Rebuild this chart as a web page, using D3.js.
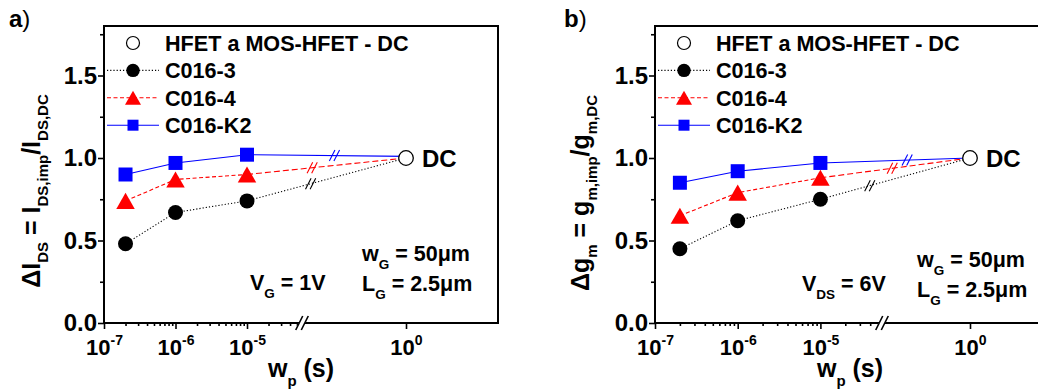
<!DOCTYPE html>
<html>
<head>
<meta charset="utf-8">
<script src="https://cdn.jsdelivr.net/npm/d3@7"></script>
<style>
body { margin: 0; background: #fff; }
svg { display: block; font-family: Arial, "Liberation Sans", sans-serif; font-weight: bold; }
text { white-space: pre; }
</style>
</head>
<body>
<svg id="chart" width="1038" height="389"></svg>
<script>
// pulse widths w_p (s) of the measured points, DC point drawn at 10^0
const pulseWidths = [2e-7, 1e-6, 1e-5];
const dcWidth = 1;
const seriesNames = ["C016-3", "C016-4", "C016-K2"];
const dcLegendLabel = "HFET a MOS-HFET - DC";
const xMajorTicks = [1e-7, 1e-6, 1e-5];
const xDcTicks = [1];
const yMajorTicks = [0, 0.5, 1.0, 1.5];
const yMinorTicks = [0.25, 0.75, 1.25, 1.75];

// a) delta I_DS
const idsC0163 = [0.48, 0.67, 0.74];
const idsC0164 = [0.74, 0.87, 0.90];
const idsC016K2 = [0.90, 0.97, 1.02];
const idsDcEnd = [1.0, 1.0, 1.01];
const idsDc = 1.0;

// b) delta g_m
const gmC0163 = [0.45, 0.62, 0.75];
const gmC0164 = [0.65, 0.79, 0.88];
const gmC016K2 = [0.85, 0.92, 0.97];
const gmDcEnd = [1.0, 1.0, 1.0];
const gmDc = 1.0;

const svg = d3.select("#chart");
const colors = ["#000000", "#ff0000", "#0000ff"];
const dashes = ["1.2,2", "4,2.5", null];
const lastDashes = ["1.2,2", "6,3", null];

// triangle centred on its bounding box (like Origin does)
const triUp = {
    draw(ctx, size) {
        const s = Math.sqrt(size), h = s * 0.87;
        ctx.moveTo(0, -h / 2);
        ctx.lineTo(s / 2, h / 2);
        ctx.lineTo(-s / 2, h / 2);
        ctx.closePath();
    }
};
const symbolTypes = [d3.symbolCircle, triUp, d3.symbolSquare];
const markerSizes = [Math.PI * 7.5 * 7.5, 18.5 * 18.5, 14 * 14];
const legendSizes = [Math.PI * 6.7 * 6.7, 16 * 16, 11 * 11];

// text with sub/superscripts, parts = [[string, "n"|"sub"|"sup"], ...]
function rich(txt, parts, big, small, subShift, supShift) {
    let cur = 0;
    parts.forEach(function (p) {
        const target = p[1] === "sub" ? subShift : (p[1] === "sup" ? -supShift : 0);
        txt.append("tspan")
            .attr("dy", target - cur)
            .attr("font-size", p[1] === "n" ? big : small)
            .text(p[0]);
        cur = target;
    });
    return txt;
}

function drawPanel(cfg) {
    const g = svg.append("g");
    const top = 26, bottom = 323;

    const y = d3.scaleLinear().domain([0, 1.8]).range([bottom, top]);
    // broken x axis: log part for the pulses, second log part around DC
    const x1 = d3.scaleLog()
        .domain([1e-7, Math.pow(10, -7 + (cfg.brk - cfg.left) / cfg.dec)])
        .range([cfg.left, cfg.brk]);
    const x2 = d3.scaleLog()
        .domain([Math.pow(10, -(cfg.p0 - cfg.brk) / cfg.dec), Math.pow(10, (cfg.right - cfg.p0) / cfg.dec)])
        .range([cfg.brk, cfg.right]);
    const x = v => (v < 1e-3 ? x1(v) : x2(v));

    // minor x ticks up to the break
    const xMinor = [];
    const brkVal = x1.domain()[1];
    for (let e = -7; e <= -5; e++) {
        for (let k = 2; k <= 9; k++) {
            const v = k * Math.pow(10, e);
            if (v < brkVal * 0.97) xMinor.push(v);
        }
    }

    // frame
    g.append("rect")
        .attr("x", cfg.left).attr("y", top)
        .attr("width", cfg.right - cfg.left).attr("height", bottom - top)
        .attr("fill", "none").attr("stroke", "#000").attr("stroke-width", 2);

    // y axis
    const yAx = g.append("g").attr("transform", `translate(${cfg.left},0)`)
        .call(d3.axisLeft(y).tickValues(yMajorTicks).tickFormat(d3.format(".1f"))
            .tickSize(6).tickSizeOuter(0).tickPadding(1));
    yAx.attr("font-size", 24).attr("font-family", null);
    yAx.selectAll("line").attr("stroke-width", 1.6);
    g.append("g").attr("transform", `translate(${cfg.left},0)`)
        .call(d3.axisLeft(y).tickValues(yMinorTicks).tickFormat("").tickSize(4).tickSizeOuter(0))
        .selectAll("line").attr("stroke-width", 1.6);

    // x axis
    const supLabel = function (d) {
        const t = d3.select(this).text(null).attr("y", 32).attr("dy", 0);
        rich(t, [["10", "n"], [String(Math.round(Math.log10(d))), "sup"]], 22, 14, 0, 10);
    };
    const xAx1 = g.append("g").attr("transform", `translate(0,${bottom})`)
        .call(d3.axisBottom(x1).tickValues(xMajorTicks).tickSize(6).tickSizeOuter(0));
    xAx1.attr("font-family", null);
    xAx1.selectAll("text").each(supLabel);
    g.append("g").attr("transform", `translate(0,${bottom})`)
        .call(d3.axisBottom(x1).tickValues(xMinor).tickFormat("").tickSize(3).tickSizeOuter(0));
    const xAx2 = g.append("g").attr("transform", `translate(0,${bottom})`)
        .call(d3.axisBottom(x2).tickValues(xDcTicks).tickSize(6).tickSizeOuter(0));
    xAx2.attr("font-family", null);
    xAx2.selectAll("text").each(supLabel);
    g.selectAll(".domain").remove();
    g.selectAll(".tick line").attr("stroke-width", 1.6);

    // axis break mark
    g.append("path")
        .attr("d", `M${cfg.brk - 5},${bottom + 3}L${cfg.brk - 1},${bottom - 3}L${cfg.brk + 5},${bottom - 3}L${cfg.brk + 1},${bottom + 3}Z`)
        .attr("fill", "#fff");
    [-2.8, 2.8].forEach(function (o) {
        g.append("line")
            .attr("x1", cfg.brk + o - 3.5).attr("y1", bottom + 7)
            .attr("x2", cfg.brk + o + 3.5).attr("y2", bottom - 7)
            .attr("stroke", "#000").attr("stroke-width", 1.6);
    });

    // data lines
    const line = d3.line().x(d => x(d[0])).y(d => y(d[1]));
    cfg.series.forEach(function (vals, i) {
        const pts = pulseWidths.map((w, j) => [w, vals[j]]);
        g.append("path").datum(pts).attr("d", line)
            .attr("fill", "none").attr("stroke", colors[i]).attr("stroke-width", 1.1)
            .attr("stroke-dasharray", dashes[i]);
        const last = [pts[pts.length - 1], [dcWidth, cfg.dcEnd[i]]];
        g.append("path").datum(last).attr("d", line)
            .attr("fill", "none").attr("stroke", colors[i]).attr("stroke-width", 1.1)
            .attr("stroke-dasharray", lastDashes[i]);
        // break mark on the line
        const ax = x(last[0][0]), ay = y(last[0][1]), bx = x(last[1][0]), by = y(last[1][1]);
        const t = cfg.lineBreaks[i];
        const px = ax + (bx - ax) * t, py = ay + (by - ay) * t;
        [-2.3, 2.3].forEach(function (o) {
            g.append("line")
                .attr("x1", px + o - 2.8).attr("y1", py + 5.5)
                .attr("x2", px + o + 2.8).attr("y2", py - 5.5)
                .attr("stroke", colors[i]).attr("stroke-width", 1.1);
        });
    });

    // markers
    cfg.series.forEach(function (vals, i) {
        g.selectAll(null).data(pulseWidths.map((w, j) => [w, vals[j]])).enter()
            .append("path")
            .attr("d", d3.symbol().type(symbolTypes[i]).size(markerSizes[i]))
            .attr("transform", d => `translate(${x(d[0])},${y(d[1])})`)
            .attr("fill", colors[i]);
    });
    g.append("circle")
        .attr("cx", x(dcWidth)).attr("cy", y(cfg.dc)).attr("r", 7.3)
        .attr("fill", "#fff").attr("stroke", "#000").attr("stroke-width", 1.3);
    g.append("text").attr("x", x(dcWidth) + 16).attr("y", y(cfg.dc) + 8.5)
        .attr("font-size", 24).text("DC");

    // legend
    const L = cfg.left;
    const rowY = i => 43 + i * 27.4;
    g.append("circle").attr("cx", L + 29).attr("cy", rowY(0)).attr("r", 6.5)
        .attr("fill", "#fff").attr("stroke", "#000").attr("stroke-width", 1.2);
    g.append("text").attr("x", L + 61).attr("y", rowY(0) + 8).attr("font-size", 21.6).text(dcLegendLabel);
    seriesNames.forEach(function (name, i) {
        const yy = rowY(i + 1);
        g.append("line").attr("x1", L + 3).attr("x2", L + 55).attr("y1", yy).attr("y2", yy)
            .attr("stroke", colors[i]).attr("stroke-width", 1.1).attr("stroke-dasharray", dashes[i]);
        g.append("path")
            .attr("d", d3.symbol().type(symbolTypes[i]).size(legendSizes[i]))
            .attr("transform", `translate(${L + 29},${yy})`)
            .attr("fill", colors[i]);
        g.append("text").attr("x", L + 61).attr("y", yy + 8).attr("font-size", 21.6).text(name);
    });

    // annotations
    rich(g.append("text").attr("x", cfg.vx).attr("y", cfg.vy), cfg.vParts, 21.5, 13.5, 8, 0);
    rich(g.append("text").attr("x", cfg.wx).attr("y", cfg.wy), [["w", "n"], ["G", "sub"], [" = 50\u03bcm", "n"]], 21.5, 13.5, 8, 0);
    rich(g.append("text").attr("x", cfg.wx).attr("y", cfg.wy + 30), [["L", "n"], ["G", "sub"], [" = 2.5\u03bcm", "n"]], 21.5, 13.5, 8, 0);

    // axis titles
    rich(g.append("text").attr("text-anchor", "middle")
        .attr("transform", `translate(${cfg.tx},${cfg.ty}) rotate(-90)`), cfg.yTitle, 25, 15, 8, 0);
    rich(g.append("text").attr("text-anchor", "middle")
        .attr("x", (cfg.left + cfg.right) / 2).attr("y", 377), [["w", "n"], ["p", "sub"], [" (s)", "n"]], 25, 15, 9, 0);

    // panel letter
    const lt = g.append("text").attr("x", cfg.lx).attr("y", 27).attr("font-size", 24);
    lt.append("tspan").text(cfg.letter);
    lt.append("tspan").attr("font-weight", "normal").text(")");
}

drawPanel({
    letter: "a", lx: 9,
    left: 104, right: 498, dec: 71.5, brk: 302, p0: 406,
    series: [idsC0163, idsC0164, idsC016K2], dcEnd: idsDcEnd, dc: idsDc,
    lineBreaks: [0.40, 0.41, 0.55],
    vx: 250, vy: 290, vParts: [["V", "n"], ["G", "sub"], [" = 1V", "n"]],
    wx: 362, wy: 261,
    tx: 40, ty: 191,
    yTitle: [["\u0394I", "n"], ["DS", "sub"], [" = I", "n"], ["DS,imp", "sub"], ["/I", "n"], ["DS,DC", "sub"]]
});

drawPanel({
    letter: "b", lx: 564,
    left: 655, right: 1045, dec: 82.7, brk: 882, p0: 970,
    series: [gmC0163, gmC0164, gmC016K2], dcEnd: gmDcEnd, dc: gmDc,
    lineBreaks: [0.33, 0.48, 0.58],
    vx: 802, vy: 291, vParts: [["V", "n"], ["DS", "sub"], [" = 6V", "n"]],
    wx: 917, wy: 267,
    tx: 589, ty: 193,
    yTitle: [["\u0394g", "n"], ["m", "sub"], [" = g", "n"], ["m,imp", "sub"], ["/g", "n"], ["m,DC", "sub"]]
});
</script>
</body>
</html>
